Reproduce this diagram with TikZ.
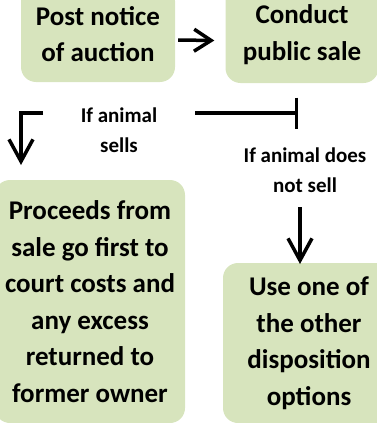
\documentclass[tikz,border=0pt]{standalone}
\usepackage{fontspec}
\setmainfont{Carlito}
\usetikzlibrary{arrows.meta,calc}
\definecolor{boxgreen}{HTML}{D7E4BD}
\begin{document}
\begin{tikzpicture}[x=1pt,y=-1pt,
  box/.style={fill=boxgreen, rounded corners=15pt, align=center, inner sep=0pt,
    font=\fontsize{27}{36.5}\selectfont\bfseries},
  lbl/.style={align=center, inner sep=0pt, font=\fontsize{21}{29.5}\selectfont\bfseries},
  conn/.style={line width=3.5pt},
  rarr/.style={conn, -{Straight Barb[length=17pt,width=22pt]}},
  darr/.style={conn, -{Straight Barb[length=22pt,width=24pt]}},
  barend/.style={conn, -{Bar[width=31pt]}},
]
\useasboundingbox (0,0) rectangle (377,423);
\clip (0,0) rectangle (377,423);
\node[box, minimum width=154pt, minimum height=96pt] (b1) at (98,34) {Post notice\\of auction};
\node[box, minimum width=153pt, minimum height=97pt] (b2) at (302,34.5) {Conduct\\public sale};
\node[box, minimum width=190pt, minimum height=243pt] (b3) at (90,301.5) {Proceeds from\\sale go first to\\court costs and\\any excess\\returned to\\former owner};
\node[box, minimum width=172pt, minimum height=160pt] (b4) at (309,343) {Use one of\\the other\\disposition\\options};
\node[lbl] (l1) at (119,130) {If animal\\sells};
\node[lbl] (l2) at (305,170) {If animal does\\not sell};
\coordinate (c1) at (43,113);
\coordinate (c2) at (21,165);
\coordinate (c3) at (195,113);
\coordinate (c4) at (298,113);
\coordinate (c5) at (300,207);
\coordinate (c6) at (300,264);
\draw[rarr] ($(b1.east)+(3,6)$) -- ($(b2.west)+(-11,6)$);
\draw[darr] (c1) -| (c2);
\draw[barend] (c3) -- (c4);
\draw[darr] (c5) -- (c6);
\end{tikzpicture}
\end{document}
